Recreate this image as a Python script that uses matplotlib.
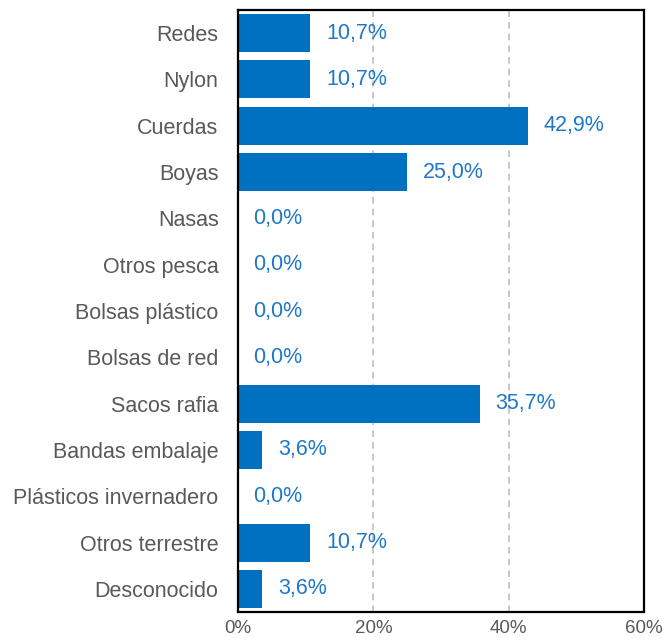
import matplotlib.pyplot as plt

categories = ["Redes", "Nylon", "Cuerdas", "Boyas", "Nasas", "Otros pesca",
              "Bolsas plástico", "Bolsas de red", "Sacos rafia", "Bandas embalaje",
              "Plásticos invernadero", "Otros terrestre", "Desconocido"]
values = [10.7, 10.7, 42.9, 25.0, 0.0, 0.0, 0.0, 0.0, 35.7, 3.6, 0.0, 10.7, 3.6]
xticks = [0, 20, 40, 60]

plt.rcParams['font.family'] = ['Liberation Sans', 'DejaVu Sans']

fig = plt.figure(figsize=(6.64, 6.38), dpi=100)
ax = fig.add_axes([238 / 664, 1 - 612 / 638, 406 / 664, 602 / 638])

y = list(range(len(categories)))
ax.barh(y, values, height=0.82, color='#0070C0', zorder=2)

for yi, v in zip(y, values):
    ax.text(v + 2.3, yi, f"{v:.1f}%".replace('.', ','), va='center', ha='left',
            fontsize=15.5, color='#1F78C8', zorder=3)

ax.set_xlim(0, 60)
ax.set_ylim(len(categories) - 0.5, -0.5)
ax.set_yticks(y)
ax.set_yticklabels(categories, fontsize=15.5, color='#595959')
ax.set_xticks(xticks)
ax.set_xticklabels([f"{t}%" for t in xticks], fontsize=13.5, color='#595959')
ax.tick_params(axis='both', length=0)
ax.tick_params(axis='y', pad=14)
ax.tick_params(axis='x', pad=6)

for t in xticks[1:-1]:
    ax.axvline(t, color='#BFBFBF', linestyle=(0, (4, 3)), linewidth=1.2, zorder=1)

for s in ax.spines.values():
    s.set_linewidth(1.6)
    s.set_color('black')

fig.savefig('out.png', dpi=100)
